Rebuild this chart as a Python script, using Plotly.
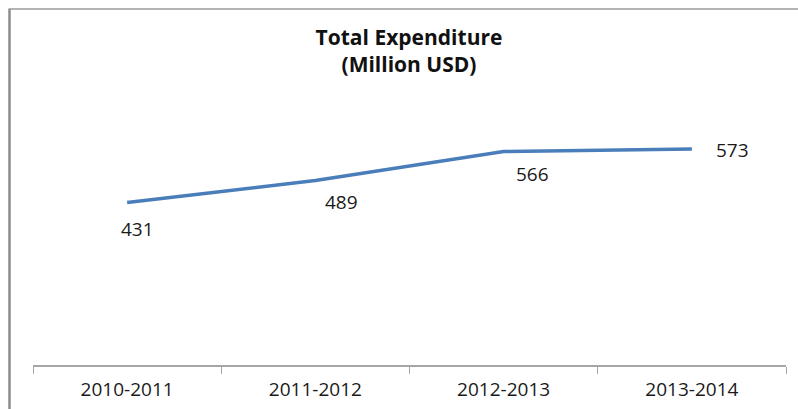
import plotly.graph_objects as go

categories = ["2010-2011", "2011-2012", "2012-2013", "2013-2014"]
values = [431, 489, 566, 573]
label_xshift = [10, 26, 29, 41]
label_yshift = [-27, -21, -22, -1]

W, H = 798, 409
L, R, T, B = 33, 12, 101, 44

fig = go.Figure()
fig.add_trace(go.Scatter(
    x=categories, y=values, mode="lines",
    line=dict(color="#4A7EBB", width=3.5),
    hoverinfo="skip", showlegend=False,
))

for c, v, dx, dy in zip(categories, values, label_xshift, label_yshift):
    fig.add_annotation(
        x=c, y=v, text=str(v), showarrow=False,
        xshift=dx, yshift=dy,
        font=dict(family="Open Sans", size=19, color="#1a1a1a"),
    )

pw = W - L - R
ph = H - T - B
def px_x(p):
    return (p - L) / pw
def px_y(p):
    return (H - B - p) / ph

# chart border (left and top visible)
fig.add_shape(type="line", xref="paper", yref="paper",
              x0=px_x(9.5), x1=px_x(9.5), y0=px_y(9), y1=px_y(H + 5),
              line=dict(color="#8C8C8C", width=2.5))
fig.add_shape(type="line", xref="paper", yref="paper",
              x0=px_x(8.5), x1=px_x(W + 5), y0=px_y(9), y1=px_y(9),
              line=dict(color="#9A9A9A", width=1.5))

fig.update_layout(
    width=W, height=H,
    margin=dict(l=L, r=R, t=T, b=B, autoexpand=False),
    paper_bgcolor="white", plot_bgcolor="white",
    title=dict(
        text="<b>Total Expenditure<br>(Million USD)</b>",
        x=(409) / W, xanchor="center",
        y=1 - 45 / H, yanchor="middle",
        font=dict(family="Open Sans", size=21, color="#111111"),
    ),
    xaxis=dict(
        type="category", range=[-0.5, 3.5],
        tickson="boundaries", ticks="outside", ticklen=7,
        tickcolor="#A6A6A6", tickwidth=1,
        showline=True, linecolor="#A6A6A6", linewidth=1.5,
        showgrid=False, zeroline=False,
        ticklabelstandoff=6,
        tickfont=dict(family="Open Sans", size=19, color="#1a1a1a"),
    ),
    yaxis=dict(
        range=[0, 700], visible=False, showgrid=False, zeroline=False,
    ),
)

fig.write_html("out.html")
